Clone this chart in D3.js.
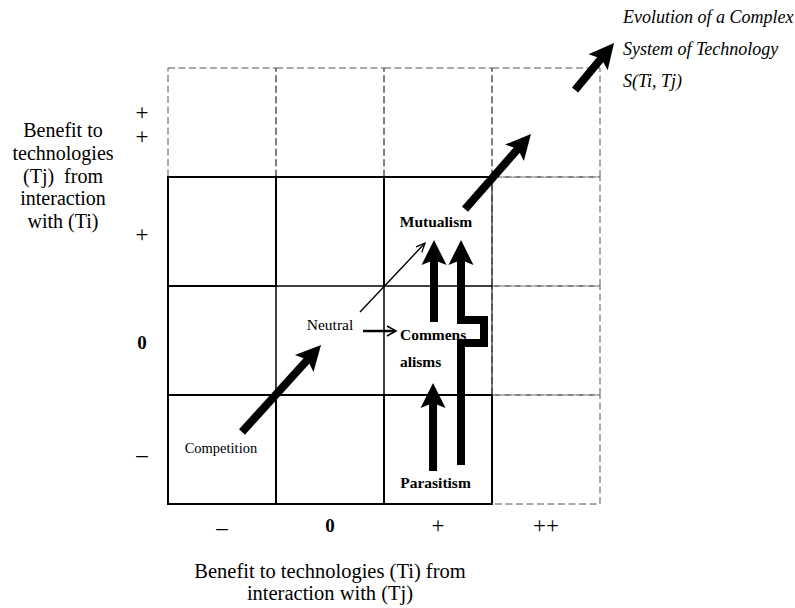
<!DOCTYPE html>
<html>
<head>
<meta charset="utf-8">
<script src="https://cdn.jsdelivr.net/npm/d3@7"></script>
<style>
  html, body { margin: 0; padding: 0; background: #fff; }
  svg { display: block; }
  text { font-family: "Liberation Serif", "Times New Roman", serif; fill: #000; }
</style>
</head>
<body>
<svg id="chart" width="795" height="608"></svg>
<script>
// ---------- data ----------
const xCategories = ["–", "0", "+", "++"];          // benefit to Ti
const yCategories = ["–", "0", "+", "++"];          // benefit to Tj (bottom to top)
const xTickLabels = ["–", "0", "+", "++"];
const yTickLabels = [["–"], ["0"], ["+"], ["+", "+"]];
const solidCols = ["–", "0", "+"];
const solidRows = ["–", "0", "+"];

// arrows in grid units (x: 0..4 left→right, y: 0..4 bottom→top)
const arrowNames = ["competitionToNeutral", "neutralToMutualism", "neutralToCommensalism",
  "commensalismToMutualism", "parasitismToMutualism", "parasitismToCommensalism",
  "mutualismUp", "evolution"];
const arrowPoints = [
  [[0.685, 0.661], [1.417, 1.459]],
  [[1.778, 1.761], [2.380, 2.394]],
  [[1.806, 1.587], [2.111, 1.587]],
  [[2.463, 1.670], [2.463, 2.422]],
  [[2.713, 0.358], [2.713, 1.477], [2.926, 1.477], [2.926, 1.688], [2.713, 1.688], [2.713, 2.422]],
  [[2.454, 0.303], [2.454, 1.110]],
  [[2.750, 2.706], [3.361, 3.394]],
  [[3.769, 3.798], [4.130, 4.229]]
];
const arrowKinds = ["thick", "thin", "medium", "thick", "thick", "thick", "thick", "thick"];

const cellLabels = [
  ["Mutualism"], ["Neutral"], ["Commens", "alisms"], ["Competition"], ["Parasitism"]
];
const cellLabelPos = [[2.481, 2.541], [1.5, 1.596], [2.148, 1.505], [0.49, 0.468], [2.477, 0.147]];
const cellLabelBold = [true, false, true, false, true];

const evolutionLines = ["Evolution of a Complex", "System of Technology", "S(Ti, Tj)"];
const yTitleLines = ["Benefit to", "technologies", "(Tj)  from", "interaction", "with (Ti)"];
const xTitleLines = ["Benefit to technologies (Ti) from", "interaction with (Tj)"];

// ---------- layout ----------
const svg = d3.select("#chart");
const x = d3.scaleLinear().domain([0, 4]).range([168, 600]);
const y = d3.scaleLinear().domain([0, 4]).range([504, 68]);
const xBand = d3.scaleBand().domain(xCategories).range([168, 600]);
const yBand = d3.scaleBand().domain(yCategories.slice().reverse()).range([68, 504]);

const kindStyle = {
  thick:  { w: 8,   hl: 25, hw: 25, open: false },
  medium: { w: 2.5, hl: 9,  hw: 10, open: true },
  thin:   { w: 1.4, hl: 9,  hw: 8,  open: true }
};

// dashed cells (row ++ and column ++)
const dashedCells = [];
xCategories.forEach(c => dashedCells.push([c, "++"]));
["–", "0", "+"].forEach(r => dashedCells.push(["++", r]));
svg.append("g").selectAll("rect").data(dashedCells).join("rect")
  .attr("x", d => xBand(d[0])).attr("y", d => yBand(d[1]))
  .attr("width", xBand.bandwidth()).attr("height", yBand.bandwidth())
  .attr("fill", "none").attr("stroke", "#555").attr("stroke-width", 1)
  .attr("stroke-dasharray", "7,3.5");

// solid 3x3 grid, thin lines
const solidCells = [];
solidRows.forEach(r => solidCols.forEach(c => solidCells.push([c, r])));
svg.append("g").selectAll("rect").data(solidCells).join("rect")
  .attr("x", d => xBand(d[0])).attr("y", d => yBand(d[1]))
  .attr("width", xBand.bandwidth()).attr("height", yBand.bandwidth())
  .attr("fill", "none").attr("stroke", "#000").attr("stroke-width", 1);

// emphasized (thick) cells
const thickCells = [["–", "+"], ["–", "–"], ["0", "–"], ["+", "–"]];
svg.append("g").selectAll("rect").data(thickCells).join("rect")
  .attr("x", d => xBand(d[0])).attr("y", d => yBand(d[1]))
  .attr("width", xBand.bandwidth()).attr("height", yBand.bandwidth())
  .attr("fill", "none").attr("stroke", "#000").attr("stroke-width", 2);
// thick top and left borders, and divider in top row
const thickLines = [
  [[0, 3], [3, 3]],
  [[0, 0], [0, 3]],
  [[2, 2], [2, 3]],
  [[1, 2], [1, 3]]
];
svg.append("g").selectAll("path").data(thickLines).join("path")
  .attr("d", d => d3.line()(d.map(p => [x(p[0]), y(p[1])])))
  .attr("stroke", "#000").attr("stroke-width", 2).attr("fill", "none");

// arrows
const ag = svg.append("g");
arrowPoints.forEach((pts, i) => {
  const st = kindStyle[arrowKinds[i]];
  const px = pts.map(p => [x(p[0]), y(p[1])]);
  const T = px[px.length - 1], P0 = px[px.length - 2];
  let dx = T[0] - P0[0], dy = T[1] - P0[1];
  const L = Math.hypot(dx, dy); dx /= L; dy /= L;
  const nx = -dy, ny = dx;
  const B = [T[0] - dx * st.hl, T[1] - dy * st.hl];
  const shaft = px.slice(0, -1).concat([st.open ? [T[0] - dx * 1, T[1] - dy * 1] : [T[0] - dx * st.hl * 0.7, T[1] - dy * st.hl * 0.7]]);
  ag.append("path").attr("class", "arrow-shaft " + arrowNames[i])
    .attr("d", d3.line()(shaft))
    .attr("fill", "none").attr("stroke", "#000").attr("stroke-width", st.w)
    .attr("stroke-linejoin", "miter").attr("stroke-linecap", "butt");
  if (st.open) {
    ag.append("path").attr("d", d3.line()([
        [B[0] + nx * st.hw / 2, B[1] + ny * st.hw / 2], T,
        [B[0] - nx * st.hw / 2, B[1] - ny * st.hw / 2]]))
      .attr("fill", "none").attr("stroke", "#000").attr("stroke-width", Math.max(1.3, st.w * 0.6))
      .attr("stroke-linejoin", "miter");
  } else {
    ag.append("path").attr("d", d3.line()([
        T,
        [B[0] + nx * st.hw / 2, B[1] + ny * st.hw / 2],
        [T[0] - dx * st.hl * 0.8, T[1] - dy * st.hl * 0.8],
        [B[0] - nx * st.hw / 2, B[1] - ny * st.hw / 2]]) + "Z")
      .attr("fill", "#000");
  }
});

// cell labels
cellLabels.forEach((lines, i) => {
  const t = svg.append("text")
    .attr("x", x(cellLabelPos[i][0])).attr("y", y(cellLabelPos[i][1]))
    .attr("text-anchor", i === 2 ? "start" : "middle")
    .attr("font-size", i === 3 ? 14.5 : 15.5)
    .attr("font-weight", cellLabelBold[i] ? "bold" : "normal");
  lines.forEach((l, j) => t.append("tspan").attr("x", x(cellLabelPos[i][0]))
    .attr("dy", j === 0 ? 0 : 27).text(l));
});

// evolution label
svg.append("g").selectAll("text").data(evolutionLines).join("text")
  .attr("x", 623).attr("y", (d, i) => 23 + i * 32)
  .attr("font-size", 18).attr("font-style", "italic").text(d => d);

// x tick labels
svg.append("g").selectAll("text").data(xTickLabels).join("text")
  .attr("x", (d, i) => xBand(xCategories[i]) + xBand.bandwidth() / 2)
  .attr("y", (d, i) => i === 0 ? 535 : (d === "0" ? 532 : 533))
  .attr("text-anchor", "middle")
  .attr("font-size", d => d === "0" ? 19 : 23)
  .attr("font-weight", d => d === "0" ? "bold" : "normal").text(d => d);

// y tick labels
yTickLabels.forEach((labs, i) => {
  const cy = yBand(yCategories[i]) + yBand.bandwidth() / 2;
  labs.forEach((l, j) => {
    const off = labs.length === 2 ? (j === 0 ? -11 : 13) : 0;
    svg.append("text")
      .attr("x", 142).attr("y", cy + off + (l === "–" ? 12 : 8) + (i === 2 ? 2 : 0) + (i === 1 ? 0 : 0))
      .attr("text-anchor", "middle").attr("font-size", l === "0" ? 19 : 23)
      .attr("font-weight", l === "0" ? "bold" : "normal").text(l);
  });
});

// y title
svg.append("g").selectAll("text").data(yTitleLines).join("text")
  .attr("x", 63).attr("y", (d, i) => 137 + i * 22.8)
  .attr("text-anchor", "middle").attr("font-size", 20)
  .attr("xml:space", "preserve").style("white-space", "pre").text(d => d);

// x title
svg.append("g").selectAll("text").data(xTitleLines).join("text")
  .attr("x", 330).attr("y", (d, i) => 578 + i * 22)
  .attr("text-anchor", "middle").attr("font-size", 20.5).text(d => d);
</script>
</body>
</html>
